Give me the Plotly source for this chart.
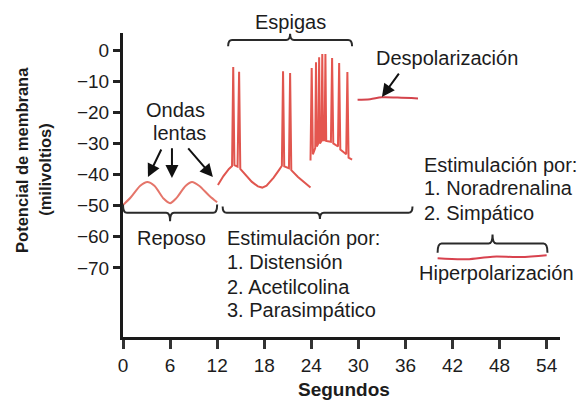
import plotly.graph_objects as go

# ---------------- data ----------------
x_ticks = [0, 6, 12, 18, 24, 30, 36, 42, 48, 54]
y_ticks = [0, -10, -20, -30, -40, -50, -60, -70]

# resting slow waves
rest_t = [0, 1.0, 2.2, 3.1, 4.0, 5.2, 6.0, 6.8, 8.0, 8.8, 9.7, 11.0, 12.0]
rest_v = [-49.8, -47.3, -43.6, -42.4, -43.6, -47.8, -49.2, -47.6, -43.6, -42.4, -43.6, -46.8, -48.9]

# stimulated slow waves with spikes
stim_t = [12.1, 12.8, 13.5, 13.9, 14.05, 14.2, 14.6, 14.8, 14.95, 15.6, 16.4, 17.2, 17.75,
          18.3, 19.2, 19.9, 20.25, 20.4, 20.55, 21.15, 21.3, 21.45, 22.3, 23.9]
stim_v = [-43.4, -40.5, -38.2, -37.3, -5.5, -37.0, -37.5, -7.0, -38.2, -40.0, -42.3, -43.8, -44.2,
          -43.6, -41.0, -38.5, -37.2, -6.8, -37.4, -38.0, -7.4, -38.6, -40.8, -44.2]

# burst of spikes
burst_t = [23.9, 24.05, 24.2, 24.5, 24.6, 24.7, 24.9, 25.0, 25.1, 25.3, 25.4, 25.5, 25.7, 25.8,
           25.9, 26.5, 26.65, 26.8, 27.4, 27.55, 27.7, 28.45, 28.6, 28.75, 29.2]
burst_v = [-35.5, -5.8, -33.5, -31.5, -3.9, -31.0, -30.0, -2.3, -30.0, -29.2, -1.3, -29.0, -29.0, -1.3,
           -29.2, -29.5, -2.6, -30.0, -31.0, -4.2, -32.0, -33.5, -7.1, -34.6, -35.2]

# depolarization
depol_t = [29.9, 31.5, 33.0, 35.0, 37.6]
depol_v = [-16.0, -15.8, -15.2, -15.3, -15.6]

# hyperpolarization
hyper_t = [40.1, 43.8, 47.1, 50.6, 54.0]
hyper_v = [-66.9, -67.2, -66.4, -66.5, -65.9]

# braces: start, end, tip position, level, tip direction (+1 up / -1 down), depth
brace_x0 = [0.0, 12.7, 13.4, 40.1]
brace_x1 = [12.0, 36.9, 29.2, 54.1]
brace_tip = [6.0, 25.1, 21.3, 47.1]
brace_y = [-52.3, -52.3, 3.2, -62.2]
brace_dir = [-1, -1, 1, 1]
brace_h = [2.7, 2.0, 2.0, 2.9]

# text labels
label_text = ["Espigas", "Despolarización", "Ondas", "lentas", "Reposo",
              "Estimulación por:", "1. Distensión", "2. Acetilcolina", "3. Parasimpático",
              "Estimulación por:", "1. Noradrenalina", "2. Simpático", "Hiperpolarización"]
label_x = [21.4, 41.3, 6.75, 7.26, 6.24, 13.0, 13.0, 13.0, 13.0, 38.1, 38.1, 38.1, 47.6]
label_y = [9.0, -2.6, -19.3, -26.7, -60.4, -60.4, -68.1, -76.1, -83.5, -36.9, -44.3, -52.3, -71.6]
label_anchor = ["center", "center", "center", "center", "center", "left", "left", "left", "left",
                "left", "left", "left", "center"]

# arrows: tail -> tip
arrow_tail_x = [4.97, 6.24, 8.15, 35.3]
arrow_tail_y = [-31.5, -31.1, -31.1, -7.1]
arrow_tip_x = [3.18, 6.24, 11.46, 33.0]
arrow_tip_y = [-40.8, -41.1, -40.8, -15.1]

x_title = "Segundos"
x_title_x = 28.2
x_title_y = -109.0
y_title = ["Potencial de membrana", "(milivoltios)"]
y_title_x = [-12.87, -9.94]
y_title_y = [-35.3, -38.5]

# ---------------- figure ----------------
XR = [0, 55.7]
YR = [-92.2, 5.46]
FONT = "Liberation Sans, Arial, Helvetica, sans-serif"
TXT = "#1c1c1c"

fig = go.Figure()
fig.add_trace(go.Scatter(x=rest_t, y=rest_v, mode="lines",
                         line=dict(color="#e5756a", width=2, shape="spline", smoothing=0.8),
                         hoverinfo="skip"))
fig.add_trace(go.Scatter(x=stim_t, y=stim_v, mode="lines",
                         line=dict(color="#e0564f", width=2), hoverinfo="skip"))
fig.add_trace(go.Scatter(x=burst_t, y=burst_v, mode="lines",
                         line=dict(color="#e4564f", width=2), hoverinfo="skip"))
fig.add_trace(go.Scatter(x=depol_t, y=depol_v, mode="lines",
                         line=dict(color="#d4444c", width=2, shape="spline"), hoverinfo="skip"))
fig.add_trace(go.Scatter(x=hyper_t, y=hyper_v, mode="lines",
                         line=dict(color="#d8424e", width=2, shape="spline"), hoverinfo="skip"))


def px(x):
    return (x - XR[0]) / (XR[1] - XR[0])


def py(y):
    return (y - YR[0]) / (YR[1] - YR[0])


shapes = []
w = 0.5
for x0, x1, xm, y, d, h in zip(brace_x0, brace_x1, brace_tip, brace_y, brace_dir, brace_h):
    path = (f"M {px(x0)},{py(y - d*h)} Q {px(x0)},{py(y)} {px(x0 + w)},{py(y)} "
            f"L {px(xm - w)},{py(y)} Q {px(xm)},{py(y)} {px(xm)},{py(y + d*h)} "
            f"Q {px(xm)},{py(y)} {px(xm + w)},{py(y)} "
            f"L {px(x1 - w)},{py(y)} Q {px(x1)},{py(y)} {px(x1)},{py(y - d*h)}")
    shapes.append(dict(type="path", path=path, xref="paper", yref="paper",
                       line=dict(color="#2a2a2a", width=2)))

annotations = []
for t, x, y, a in zip(label_text, label_x, label_y, label_anchor):
    annotations.append(dict(text=t, x=px(x), y=py(y), xref="paper", yref="paper", showarrow=False,
                            xanchor=a, yanchor="middle",
                            font=dict(family=FONT, size=20, color=TXT)))
for tx, ty, hx, hy in zip(arrow_tail_x, arrow_tail_y, arrow_tip_x, arrow_tip_y):
    annotations.append(dict(text="", x=hx, y=hy, ax=tx, ay=ty, xref="x", yref="y",
                            axref="x", ayref="y", showarrow=True, arrowhead=2,
                            arrowsize=1.3, arrowwidth=2, arrowcolor="#111111"))
annotations.append(dict(text="<b>" + x_title + "</b>", x=px(x_title_x), y=py(x_title_y),
                        xref="paper", yref="paper",
                        showarrow=False, xanchor="center", yanchor="middle",
                        font=dict(family=FONT, size=19, color=TXT)))
for t, x, y in zip(y_title, y_title_x, y_title_y):
    annotations.append(dict(text="<b>" + t + "</b>", x=px(x), y=py(y), xref="paper", yref="paper",
                            showarrow=False, textangle=-90, xanchor="center", yanchor="middle",
                            font=dict(family=FONT, size=16.5, color=TXT)))

fig.update_layout(
    width=584, height=401,
    margin=dict(l=123, r=24, t=33, b=64),
    paper_bgcolor="white", plot_bgcolor="white",
    showlegend=False,
    shapes=shapes, annotations=annotations,
    font=dict(family=FONT, color=TXT),
)
fig.update_xaxes(range=XR, tickvals=x_ticks, showgrid=False, zeroline=False,
                 showline=True, linecolor="#1a1a1a", linewidth=3,
                 ticks="outside", ticklen=9, tickwidth=2.5, tickcolor="#333333",
                 tickfont=dict(family=FONT, size=19, color=TXT), ticklabelstandoff=0)
fig.update_yaxes(range=YR, tickvals=y_ticks, showgrid=False, zeroline=False,
                 showline=True, linecolor="#1a1a1a", linewidth=3,
                 ticks="outside", ticklen=7, tickwidth=3, tickcolor="#222222",
                 tickfont=dict(family=FONT, size=19, color=TXT))

fig.write_html("out.html", config={"displayModeBar": False},
               post_script="document.body.style.margin='0px';")
